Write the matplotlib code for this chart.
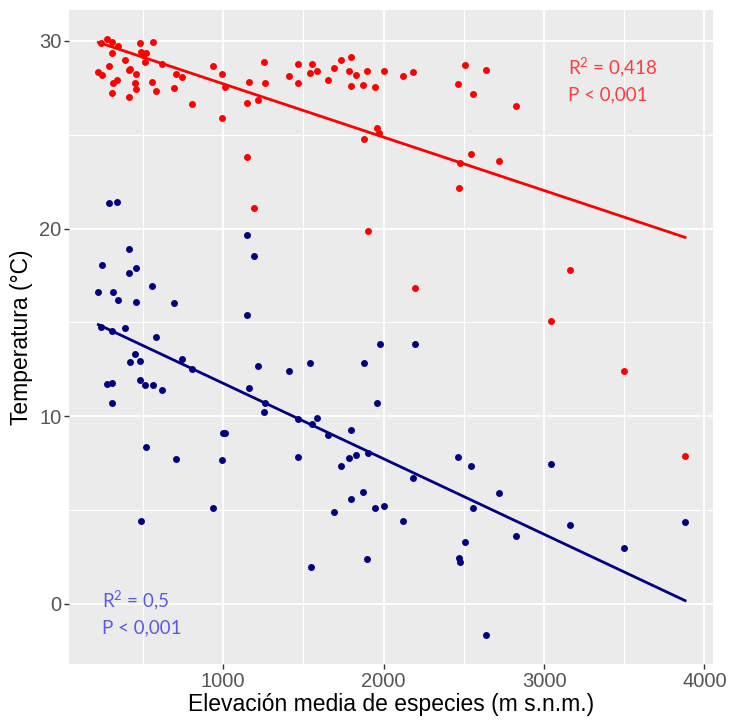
import matplotlib
matplotlib.use("Agg")
import matplotlib.pyplot as plt
import numpy as np

# Maximum temperature (red) vs mean species elevation
elev_max = [238, 275, 306, 346, 306, 483, 566, 489, 520, 504, 512, 391, 292, 223, 246,
            418, 412, 460, 618, 317, 337, 452, 458, 558, 581, 306, 414, 695, 709, 747,
            807, 936, 996, 1012, 996, 1148, 1216, 1162, 1253, 1262, 1411, 1465, 1465,
            1542, 1556, 1586, 1654, 1692, 1737, 1797, 1783, 1829, 1800, 1872, 1897,
            1949, 2003, 1958, 1974, 1880, 1148, 1193, 1903, 2121, 2184, 2464, 2510,
            2556, 2639, 2827, 2545, 2477, 2721, 2470, 2198, 3160, 3046, 3500, 3879]
temp_max = [29.87, 30.08, 29.94, 29.75, 29.34, 29.87, 29.94, 29.43, 29.34, 29.25, 28.89,
            28.97, 28.65, 28.34, 28.18, 28.52, 28.45, 28.25, 28.75, 27.74, 27.92, 27.74,
            27.42, 27.81, 27.35, 27.22, 27.03, 27.47, 28.25, 28.06, 26.64, 28.65, 28.25,
            27.54, 25.88, 26.71, 26.85, 27.81, 28.89, 27.74, 28.11, 28.77, 27.74, 28.31,
            28.77, 28.38, 27.93, 28.57, 28.97, 29.16, 28.38, 28.18, 27.61, 27.67, 28.38,
            27.54, 28.38, 25.34, 25.11, 24.76, 23.81, 21.08, 19.87, 28.11, 28.33, 27.69,
            28.72, 27.16, 28.45, 26.52, 23.99, 23.48, 23.60, 22.18, 16.84, 17.79, 15.08,
            12.43, 7.90]

# Minimum temperature (navy) vs mean species elevation
elev_min = [292, 337, 1148, 1193, 414, 246, 460, 412, 558, 223, 315, 346, 460, 695, 1148,
            238, 306, 391, 581, 452, 420, 481, 747, 807, 1216, 1411, 1540, 1880, 1980,
            1958, 275, 306, 306, 481, 512, 566, 618, 1162, 1253, 1262, 1465, 1586, 1556,
            1654, 1797, 1903, 1783, 1829, 1737, 1002, 1012, 996, 520, 709, 1465, 936, 489,
            1692, 1797, 1872, 1949, 2003, 1550, 1897, 2198, 2464, 2547, 2182, 2121, 2721,
            2556, 2827, 2510, 2470, 2478, 3046, 3160, 3500, 3879, 2639]
temp_min = [21.35, 21.40, 19.66, 18.56, 18.90, 18.04, 17.92, 17.65, 16.94, 16.62, 16.62,
            16.18, 16.11, 16.05, 15.40, 14.78, 14.56, 14.70, 14.24, 13.34, 12.89, 12.95,
            13.04, 12.50, 12.70, 12.43, 12.82, 12.82, 13.85, 10.69, 11.72, 11.79, 10.69,
            11.92, 11.67, 11.67, 11.40, 11.53, 10.23, 10.69, 9.86, 9.93, 9.59, 9.00, 9.27,
            8.06, 7.80, 7.94, 7.34, 9.09, 9.13, 7.65, 8.36, 7.73, 7.85, 5.13, 4.44, 4.88,
            5.59, 5.99, 5.13, 5.20, 1.99, 2.38, 13.85, 7.85, 7.33, 6.70, 4.42, 5.91, 5.13,
            3.64, 3.32, 2.43, 2.24, 7.46, 4.23, 3.00, 4.35, -1.65]

x_ticks = [1000, 2000, 3000, 4000]
y_ticks = [0, 10, 20, 30]

RED = "#FF0000"
NAVY = "#000080"

# superscript in the annotations drawn with the same font as the text
plt.rcParams["mathtext.fontset"] = "custom"
plt.rcParams["mathtext.rm"] = "Lato"


def _fit_line(x, y):
    x = np.asarray(x, dtype=float)
    y = np.asarray(y, dtype=float)
    slope, intercept = np.polyfit(x, y, 1)
    xs = np.array([x.min(), x.max()])
    return xs, slope * xs + intercept


fig = plt.figure(figsize=(7.29, 7.22), dpi=100)
ax = fig.add_axes([69 / 729, 1 - 664 / 722, (713 - 69) / 729, (664 - 10) / 722])
ax.set_facecolor("#EBEBEB")

ax.set_xlim(40, 4053)
ax.set_ylim(-3.2, 31.65)
ax.set_xticks(x_ticks)
ax.set_yticks(y_ticks)
ax.set_xticks([500, 1500, 2500, 3500], minor=True)
ax.set_yticks([5, 15, 25], minor=True)
ax.grid(which="major", color="white", linewidth=1.3)
ax.grid(which="minor", color="white", linewidth=0.8)
ax.set_axisbelow(True)
for spine in ax.spines.values():
    spine.set_visible(False)
ax.tick_params(which="major", length=3.5, width=1, color="#333333",
               labelcolor="#555555", labelsize=14.5, pad=2)
ax.tick_params(which="minor", length=0)
for lab in ax.get_xticklabels() + ax.get_yticklabels():
    lab.set_family("Liberation Sans")

ax.scatter(elev_max, temp_max, s=25, color=RED, linewidths=0, zorder=3)
ax.scatter(elev_min, temp_min, s=25, color=NAVY, linewidths=0, zorder=3)

xs, ys = _fit_line(elev_max, temp_max)
ax.plot(xs, ys, color=RED, linewidth=2, zorder=4)
xs, ys = _fit_line(elev_min, temp_min)
ax.plot(xs, ys, color=NAVY, linewidth=2, zorder=4)

ax.text(0.775, 0.93, "R$^{\\mathrm{2}}$ = 0,418\nP < 0,001", transform=ax.transAxes,
        color="#FF3B3B", fontsize=13.5, family="Lato", linespacing=1.45, va="top")
ax.text(0.052, 0.115, "R$^{\\mathrm{2}}$ = 0,5\nP < 0,001", transform=ax.transAxes,
        color="#5A5AE6", fontsize=13.5, family="Lato", linespacing=1.45, va="top")

ax.set_xlabel("Elevación media de especies (m s.n.m.)", family="Liberation Sans",
              fontsize=16.5, color="black", labelpad=2)
ax.set_ylabel("Temperatura (°C)", family="Liberation Sans",
              fontsize=16.5, color="black", labelpad=4)

fig.savefig("out.png", dpi=100)
